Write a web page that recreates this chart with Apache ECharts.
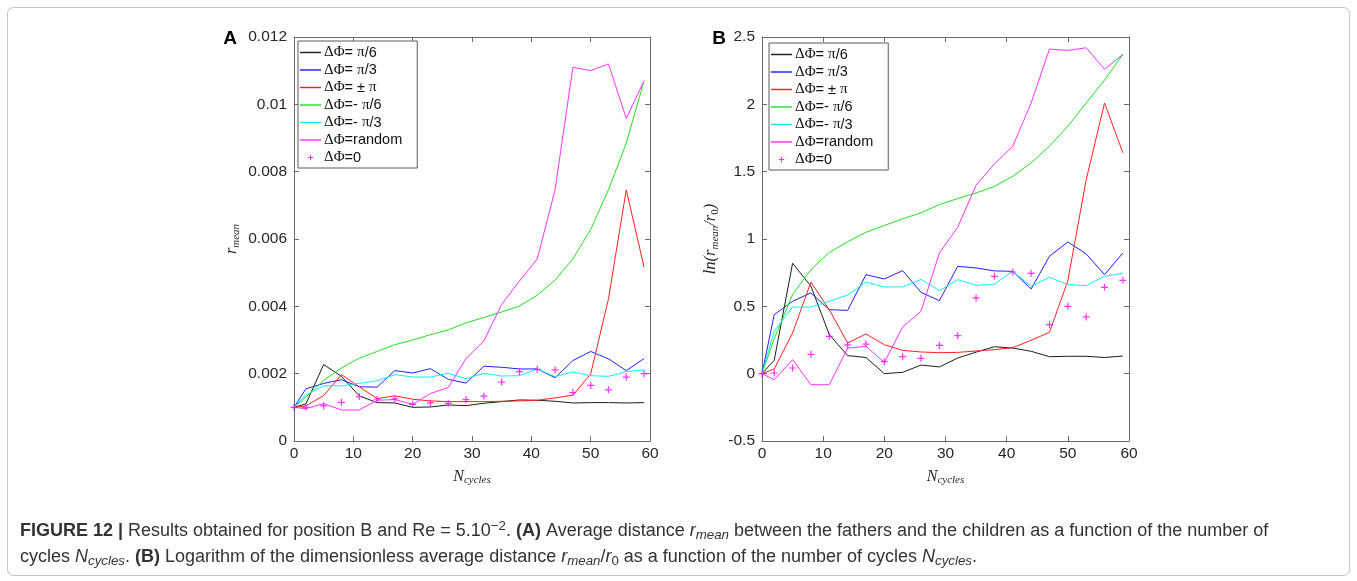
<!DOCTYPE html>
<html>
<head>
<meta charset="utf-8">
<script src="https://cdn.jsdelivr.net/npm/echarts@6/dist/echarts.min.js"></script>
<style>
  html, body { margin: 0; padding: 0; background: #ffffff; }
  #chart { width: 1357px; height: 581px; }
</style>
</head>
<body>
<div id="chart"></div>
<script>
// Number of cycles sampled in both panels
const cycles = [0, 2, 5, 8, 11, 14, 17, 20, 23, 26, 29, 32, 35, 38, 41, 44, 47, 50, 53, 56, 59];

// Panel A: average distance r_mean
const rPi6    = [0.001, 0.0011, 0.00227, 0.00192, 0.00134, 0.00114, 0.00113, 0.001, 0.00101, 0.00107, 0.00105, 0.00112, 0.00117, 0.00122, 0.00121, 0.00118, 0.00113, 0.00114, 0.00114, 0.00113, 0.00114];
const rPi3    = [0.001, 0.00155, 0.00171, 0.00182, 0.00161, 0.0016, 0.00209, 0.00202, 0.00215, 0.00183, 0.00172, 0.00222, 0.00219, 0.00214, 0.00214, 0.00188, 0.00239, 0.00266, 0.00244, 0.00209, 0.00245];
const rPi     = [0.001, 0.00104, 0.00135, 0.00197, 0.00161, 0.00126, 0.00134, 0.00124, 0.00119, 0.00117, 0.00117, 0.00117, 0.00118, 0.00119, 0.00121, 0.00128, 0.00136, 0.00199, 0.00422, 0.00746, 0.00516];
const rMPi6   = [0.001, 0.0013, 0.0018, 0.00217, 0.00246, 0.00266, 0.00286, 0.003, 0.00316, 0.0033, 0.00351, 0.00367, 0.00383, 0.00401, 0.00433, 0.00478, 0.00541, 0.00628, 0.00746, 0.00885, 0.0107];
const rMPi3   = [0.001, 0.00137, 0.00164, 0.00164, 0.00171, 0.00179, 0.00197, 0.0019, 0.0019, 0.00201, 0.00185, 0.00201, 0.00193, 0.00194, 0.00214, 0.00191, 0.00205, 0.00194, 0.00192, 0.00206, 0.00211];
const rRandom = [0.001, 0.00096, 0.00111, 0.00092, 0.00092, 0.00121, 0.00123, 0.00109, 0.00141, 0.00159, 0.00245, 0.00297, 0.00406, 0.00475, 0.00541, 0.00746, 0.0111, 0.011, 0.0112, 0.00958, 0.0107];
const rZero   = [0.001, 0.001, 0.00104, 0.00115, 0.00132, 0.00124, 0.00125, 0.00109, 0.00113, 0.00112, 0.00123, 0.00133, 0.00175, 0.00206, 0.00213, 0.00211, 0.00144, 0.00165, 0.00152, 0.0019, 0.002];

// Panel B: ln(r_mean / r0)
const lnPi6    = [0, 0.1, 0.82, 0.65, 0.29, 0.134, 0.12, 0.0, 0.01, 0.064, 0.05, 0.116, 0.16, 0.2, 0.19, 0.166, 0.126, 0.129, 0.129, 0.12, 0.131];
const lnPi3    = [0, 0.438, 0.537, 0.6, 0.475, 0.47, 0.735, 0.703, 0.765, 0.604, 0.542, 0.797, 0.785, 0.763, 0.76, 0.629, 0.872, 0.978, 0.89, 0.735, 0.896];
const lnPi     = [0, 0.035, 0.302, 0.68, 0.475, 0.228, 0.295, 0.215, 0.173, 0.161, 0.156, 0.158, 0.168, 0.178, 0.193, 0.248, 0.307, 0.69, 1.44, 2.01, 1.64];
const lnMPi6   = [0, 0.26, 0.587, 0.773, 0.9, 0.98, 1.05, 1.1, 1.15, 1.194, 1.256, 1.3, 1.342, 1.39, 1.466, 1.565, 1.689, 1.837, 2.01, 2.18, 2.37];
const lnMPi3   = [0, 0.315, 0.495, 0.495, 0.537, 0.584, 0.68, 0.644, 0.644, 0.7, 0.617, 0.698, 0.656, 0.664, 0.76, 0.649, 0.716, 0.661, 0.654, 0.723, 0.745];
const lnRandom = [0, -0.045, 0.104, -0.082, -0.082, 0.19, 0.203, 0.084, 0.347, 0.463, 0.896, 1.087, 1.4, 1.558, 1.689, 2.01, 2.41, 2.4, 2.42, 2.26, 2.37];
const lnZero   = [0, 0.005, 0.042, 0.144, 0.277, 0.213, 0.22, 0.089, 0.126, 0.114, 0.21, 0.282, 0.562, 0.723, 0.755, 0.745, 0.364, 0.5, 0.421, 0.641, 0.693];

// Legend entries
const seriesNames = ['ΔΦ= π/6', 'ΔΦ= π/3', 'ΔΦ= ± π', 'ΔΦ=- π/6', 'ΔΦ=- π/3', 'ΔΦ=random', 'ΔΦ=0'];

// Tick values
const xTicksA = { min: 0, max: 60, interval: 10 };
const yTicksA = { min: 0, max: 0.012, interval: 0.002 };
const yTicksB = { min: -0.5, max: 2.5, interval: 0.5 };

// Styling
const lineColors = ['#1e1e1e', '#2020ff', '#ff2020', '#22e022', '#10f0f0', '#ff30ff'];
const plusColor = '#ff00ff';
const axisColor = '#6a6a6a';
const tickTextColor = '#262626';
const sansFont = '"Liberation Sans", Arial, sans-serif';
const serifFont = '"Liberation Serif", "DejaVu Serif", serif';
// '+' marker; the two extra move-to points pad its bounding box
const plusPath = 'path://M0,0M20,20M9.3,6h1.4v8h-1.4zM6,9.3h8v1.4h-8z';
// plain line sample for the line entries of the legends
const lineIcon = 'path://M0,0h22v1.5h-22z';

function pairs(ys) { return cycles.map((c, i) => [c, ys[i]]); }

function xAxisFor(gridIndex, position, showLabels, withName) {
  const ax = {
    type: 'value', gridIndex, position,
    min: xTicksA.min, max: xTicksA.max, interval: xTicksA.interval,
    axisLine: { show: true, onZero: false, lineStyle: { color: axisColor, width: 1 } },
    axisTick: { show: true, inside: true, length: 5, lineStyle: { color: axisColor } },
    axisLabel: { show: showLabels, margin: 5, color: tickTextColor, fontSize: 15.5, fontFamily: sansFont },
    splitLine: { show: false }
  };
  if (withName) {
    ax.name = '{i|N}{s|cycles}';
    ax.nameLocation = 'middle';
    ax.nameGap = 19;
    ax.nameTextStyle = {
      color: tickTextColor,
      rich: {
        i: { fontFamily: serifFont, fontStyle: 'italic', fontSize: 16, color: tickTextColor, lineHeight: 18 },
        s: { fontFamily: serifFont, fontStyle: 'italic', fontSize: 11, color: tickTextColor, padding: [8, 0, 0, 0], lineHeight: 18 }
      }
    };
  }
  return ax;
}

function yAxisFor(gridIndex, position, ticks, showLabels, name, gap) {
  const ax = {
    type: 'value', gridIndex, position,
    min: ticks.min, max: ticks.max, interval: ticks.interval,
    axisLine: { show: true, onZero: false, lineStyle: { color: axisColor, width: 1 } },
    axisTick: { show: true, inside: true, length: 5, lineStyle: { color: axisColor } },
    axisLabel: {
      show: showLabels, margin: 7, color: tickTextColor, fontSize: 15.5, fontFamily: sansFont,
      formatter: v => String(Number(v.toFixed(4)))
    },
    splitLine: { show: false }
  };
  if (name) {
    ax.name = name;
    ax.nameLocation = 'middle';
    ax.nameGap = gap;
    ax.nameRotate = 90;
    ax.nameTextStyle = {
      color: tickTextColor,
      rich: {
        i: { fontFamily: serifFont, fontStyle: 'italic', fontSize: 16.5, color: tickTextColor, lineHeight: 18 },
        s: { fontFamily: serifFont, fontStyle: 'italic', fontSize: 11, color: tickTextColor, padding: [8, 0, 0, 0], lineHeight: 18 },
        n: { fontFamily: serifFont, fontSize: 11, color: tickTextColor, padding: [8, 0, 0, 0], lineHeight: 18 }
      }
    };
  }
  return ax;
}

function panelSeries(xIdx, yIdx, lists) {
  const out = [];
  for (let k = 0; k < 6; k++) {
    out.push({
      type: 'line', name: seriesNames[k], xAxisIndex: xIdx, yAxisIndex: yIdx,
      data: pairs(lists[k]), symbol: 'none', smooth: false,
      lineStyle: { color: lineColors[k], width: 1 },
      itemStyle: { color: lineColors[k] },
      emphasis: { disabled: true }, z: 2 + k
    });
  }
  out.push({
    type: 'scatter', name: seriesNames[6], xAxisIndex: xIdx, yAxisIndex: yIdx,
    data: pairs(lists[6]), symbol: plusPath, symbolSize: 17.5,
    itemStyle: { color: plusColor }, emphasis: { disabled: true }, z: 9
  });
  return out;
}

function legendFor(left, top) {
  return {
    orient: 'vertical', left, top,
    data: seriesNames.map((n, i) => (i < 6 ? { name: n, icon: lineIcon } : { name: n })),
    itemWidth: 21, itemHeight: 14, itemGap: 2.5,
    padding: [4, 15, 3, 2],
    backgroundColor: '#ffffff',
    borderColor: '#5a5a5a', borderWidth: 1, borderRadius: 0,
    selectedMode: false,
    formatter: name => name.replace('ΔΦ', '{g|ΔΦ}').replace('π', '{g|π}'),
    textStyle: {
      color: '#111', fontSize: 14.5, fontFamily: sansFont, lineHeight: 14, padding: [0, 0, 0, -2],
      rich: { g: { fontFamily: serifFont, fontSize: 15, color: '#111', lineHeight: 14 } }
    }
  };
}

const capStyle = { fontFamily: sansFont, fontSize: 18, fill: '#333', lineHeight: 22 };
const capRich = {
  n: Object.assign({}, capStyle),
  b: Object.assign({}, capStyle, { fontWeight: 'bold' }),
  i: Object.assign({}, capStyle, { fontStyle: 'italic' }),
  isub: Object.assign({}, capStyle, { fontStyle: 'italic', fontSize: 13.3, padding: [9, 0, 0, 0] }),
  sub: Object.assign({}, capStyle, { fontSize: 13.3, padding: [9, 0, 0, 0] }),
  sup: Object.assign({}, capStyle, { fontSize: 13.3, padding: [0, 0, 10, 0] })
};
const captionLine1 = '{b|FIGURE 12 | }{n|Results obtained for position B and Re = 5.10}{sup|−2}{n|. }{b|(A)}{n| Average distance }{i|r}{isub|mean}{n| between the fathers and the children as a function of the number of}';
const captionLine2 = '{n|cycles }{i|N}{isub|cycles}{n|. }{b|(B)}{n| Logarithm of the dimensionless average distance }{i|r}{isub|mean}{n|/}{i|r}{sub|0}{n| as a function of the number of cycles }{i|N}{isub|cycles}{n|.}';

const option = {
  animation: false,
  backgroundColor: '#ffffff',
  grid: [
    { left: 294, top: 37, width: 356, height: 404, containLabel: false },
    { left: 762, top: 37, width: 367, height: 404, containLabel: false }
  ],
  xAxis: [
    xAxisFor(0, 'bottom', true, true),
    xAxisFor(0, 'top', false, false),
    xAxisFor(1, 'bottom', true, true),
    xAxisFor(1, 'top', false, false)
  ],
  yAxis: [
    yAxisFor(0, 'left', yTicksA, true, '{i|r}{s|mean}', 53),
    yAxisFor(0, 'right', yTicksA, false, null, 0),
    yAxisFor(1, 'left', yTicksB, true, '{i|ln(r}{s|mean}{i|/r}{n|0}{i|)}', 42),
    yAxisFor(1, 'right', yTicksB, false, null, 0)
  ],
  legend: [legendFor(298, 41), legendFor(769, 43)],
  series: [].concat(
    panelSeries(0, 0, [rPi6, rPi3, rPi, rMPi6, rMPi3, rRandom, rZero]),
    panelSeries(2, 2, [lnPi6, lnPi3, lnPi, lnMPi6, lnMPi3, lnRandom, lnZero])
  ),
  graphic: [
    {
      type: 'rect', silent: true, z: -10,
      shape: { x: 7.5, y: 7.5, width: 1342, height: 568, r: 6 },
      style: { fill: 'none', stroke: '#c4c4c4', lineWidth: 1 }
    },
    {
      type: 'text', silent: true, x: 230, y: 38.5,
      style: { text: 'A', fontFamily: sansFont, fontWeight: 'bold', fontSize: 19, fill: '#000', align: 'center', verticalAlign: 'middle' }
    },
    {
      type: 'text', silent: true, x: 719, y: 38.5,
      style: { text: 'B', fontFamily: sansFont, fontWeight: 'bold', fontSize: 19, fill: '#000', align: 'center', verticalAlign: 'middle' }
    },
    {
      type: 'text', silent: true, x: 20, y: 531,
      style: { text: captionLine1, rich: capRich, align: 'left', verticalAlign: 'middle', fontFamily: sansFont, fontSize: 18, fill: '#333' }
    },
    {
      type: 'text', silent: true, x: 20, y: 557,
      style: { text: captionLine2, rich: capRich, align: 'left', verticalAlign: 'middle', fontFamily: sansFont, fontSize: 18, fill: '#333' }
    }
  ]
};

const chart = echarts.init(document.getElementById('chart'), null, { renderer: 'canvas' });
chart.setOption(option);
</script>
</body>
</html>
